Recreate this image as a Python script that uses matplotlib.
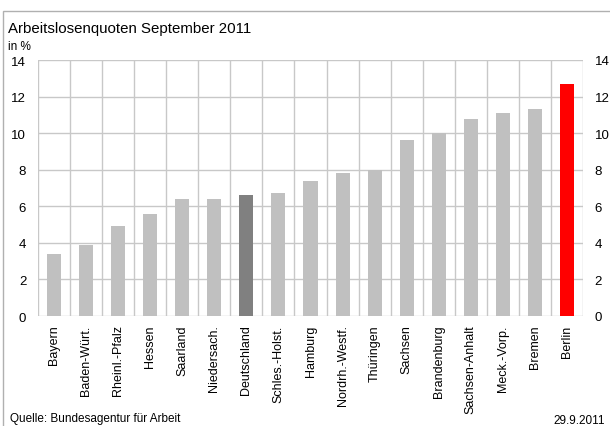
import matplotlib
matplotlib.use("Agg")
import matplotlib.pyplot as plt
from matplotlib.patches import Rectangle

plt.rcParams['font.family'] = ['Liberation Sans', 'DejaVu Sans']

laender = ["Bayern", "Baden-Würt.", "Rheinl.-Pfalz", "Hessen", "Saarland",
           "Niedersach.", "Deutschland", "Schles.-Holst.", "Hamburg",
           "Nordrh.-Westf.", "Thüringen", "Sachsen", "Brandenburg",
           "Sachsen-Anhalt", "Meck.-Vorp.", "Bremen", "Berlin"]
quoten = [3.4, 3.9, 4.9, 5.6, 6.4, 6.4, 6.6, 6.7, 7.4, 7.8, 8.0, 9.6,
          10.0, 10.8, 11.1, 11.3, 12.7]
y_ticks = [0, 2, 4, 6, 8, 10, 12, 14]

W, H = 610, 427
fig = plt.figure(figsize=(W / 100, H / 100), dpi=100)
ax = fig.add_axes([38 / W, 1 - 317 / H, (583 - 38) / W, (317 - 61) / H])

colors = []
for name in laender:
    if name == "Deutschland":
        colors.append("#808080")
    elif name == "Berlin":
        colors.append("#ff0000")
    else:
        colors.append("#c0c0c0")

x = list(range(len(laender)))
ax.bar(x, quoten, width=0.44, color=colors, zorder=3)

ax.set_xlim(-0.5, len(laender) - 0.5)
ax.set_ylim(0, 14)
ax.set_yticks(y_ticks)
ax.set_xticks(x)
ax.set_xticklabels(laender, rotation=90, fontsize=9)
ax.tick_params(axis='x', length=0, pad=6)
ax.tick_params(axis='y', length=0, labelsize=9.5, pad=8.5)

# duplicate value scale on the right
ax_r = ax.twinx()
ax_r.set_ylim(0, 14)
ax_r.set_yticks(y_ticks)
ax_r.tick_params(axis='y', length=0, labelsize=9.5, pad=8.5)
for s in ax_r.spines.values():
    s.set_visible(False)

# grid: horizontal at ticks, vertical between categories
grid_c = "#c8c8c8"
for yv in y_ticks:
    ax.axhline(yv, color=grid_c, lw=1.0, zorder=1)
for b in range(len(laender) + 1):
    ax.axvline(b - 0.5, color=grid_c, lw=1.0, zorder=1)
for s in ax.spines.values():
    s.set_visible(False)

# outer frame
fig.patches.append(Rectangle((3 / W, -0.1), 1.2, 1 - 12 / H + 0.1,
                             transform=fig.transFigure, fill=False,
                             edgecolor="#b0b0b0", lw=1.0))

fig.text(8 / W, 1 - 29 / H, "Arbeitslosenquoten September 2011",
         fontsize=10.8, va='center', ha='left')
fig.text(8 / W, 1 - 47 / H, "in %", fontsize=8.5, va='center', ha='left')
fig.text(10 / W, 1 - 419 / H, "Quelle: Bundesagentur für Arbeit",
         fontsize=8.5, va='center', ha='left')
fig.text(605 / W, 1 - 421 / H, "29.9.2011",
         fontsize=8.5, va='center', ha='right')

fig.savefig("out.png", dpi=100)
